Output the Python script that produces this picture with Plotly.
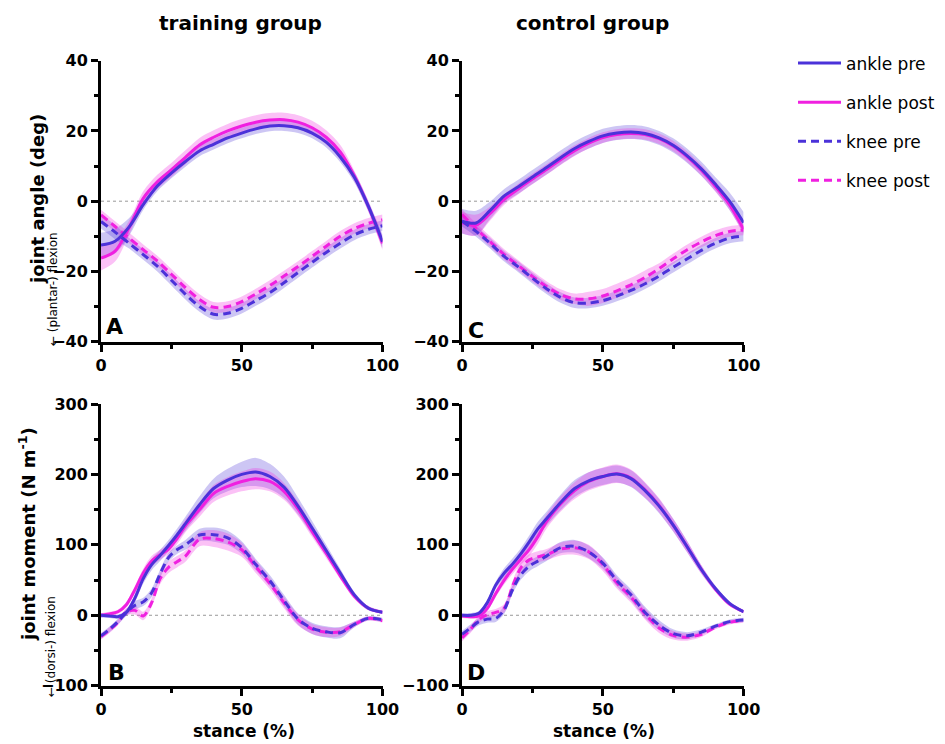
import plotly.graph_objects as go

# ---------------- data ----------------
X_ANGLE = [0, 5, 10, 15, 20, 25, 30, 35, 40, 45, 50, 55, 60, 65, 70, 75, 80, 85, 90, 95, 100]
X_MOMENT = [0, 3, 6, 9, 12, 15, 18, 21, 24, 27, 30, 35, 40, 45, 50, 55, 60, 65, 70, 75, 80, 85, 90, 95, 100]

# Panel A - training group, joint angle (deg)
A_ANKLE_PRE = [-12.5, -11.4, -7.3, -1.0, 4.3, 8.0, 11.3, 14.3, 16.2, 18.0, 19.4, 20.6, 21.4, 21.5, 20.9, 19.4, 16.8, 12.6, 6.8, -1.5, -11.5]
A_ANKLE_POST = [-16.2, -14.2, -7.5, 0.8, 5.5, 8.9, 12.5, 16.0, 18.2, 20.0, 21.4, 22.5, 23.1, 23.2, 22.5, 20.9, 18.2, 14.0, 7.2, -1.5, -12.0]
A_KNEE_PRE = [-5.8, -8.8, -12.0, -15.2, -18.5, -22.5, -26.5, -30.0, -32.2, -31.9, -30.5, -28.3, -26.0, -23.2, -20.3, -17.4, -14.6, -12.0, -9.6, -8.0, -7.0]
A_KNEE_POST = [-3.9, -7.2, -10.5, -13.8, -17.0, -20.8, -24.6, -28.0, -30.2, -30.0, -28.6, -26.4, -24.0, -21.3, -18.6, -15.7, -12.8, -10.0, -7.8, -6.3, -5.3]
A_ANKLE_PRE_SD = [3.5, 3.5, 2.5, 1.5, 1.5, 1.5, 1.5, 1.5, 1.5, 1.5, 1.5, 1.5, 1.5, 1.5, 1.5, 1.5, 1.5, 1.5, 1.5, 1.5, 2.0]
A_ANKLE_POST_SD = [3.5, 3.0, 2.0, 2.0, 2.0, 2.0, 2.0, 2.0, 2.0, 2.0, 2.0, 2.0, 2.0, 2.0, 2.0, 2.0, 2.0, 2.0, 1.5, 1.5, 2.0]
A_KNEE_PRE_SD = [2.0, 2.0, 1.5, 1.5, 1.5, 1.5, 1.5, 1.5, 1.5, 1.5, 1.5, 1.5, 1.5, 1.5, 1.5, 1.5, 1.5, 1.5, 1.5, 1.5, 1.5]
A_KNEE_POST_SD = [1.5, 1.5, 1.5, 1.5, 1.5, 1.5, 1.5, 1.5, 1.5, 1.5, 1.5, 1.5, 1.5, 1.5, 1.5, 1.5, 1.5, 1.5, 1.5, 1.5, 1.5]

# Panel C - control group, joint angle (deg)
C_ANKLE_PRE = [-5.7, -6.2, -2.6, 1.5, 4.1, 6.9, 9.6, 12.4, 15.0, 17.0, 18.6, 19.4, 19.7, 19.3, 18.0, 15.9, 12.9, 9.2, 4.8, 0.0, -6.1]
C_ANKLE_POST = [-6.1, -6.8, -3.5, 0.5, 3.5, 6.3, 9.0, 11.8, 14.4, 16.5, 18.1, 19.0, 19.3, 19.0, 17.8, 15.7, 12.6, 8.8, 4.2, -1.0, -8.0]
C_KNEE_PRE = [-5.7, -8.6, -12.0, -15.7, -18.7, -21.9, -24.9, -27.4, -28.9, -29.0, -28.3, -27.0, -25.4, -23.5, -21.3, -18.8, -16.4, -14.0, -12.0, -10.5, -9.9]
C_KNEE_POST = [-3.8, -7.8, -11.5, -15.2, -18.3, -21.4, -24.3, -26.6, -27.8, -27.8, -27.0, -25.5, -23.8, -21.7, -19.2, -16.4, -13.8, -11.6, -9.8, -8.6, -8.2]
C_ANKLE_PRE_SD = [3.5, 3.5, 2.5, 2.0, 2.0, 2.0, 2.0, 2.0, 2.0, 2.0, 2.0, 2.0, 2.0, 2.0, 2.0, 2.0, 2.0, 2.0, 2.0, 2.5, 3.0]
C_ANKLE_POST_SD = [3.0, 3.0, 2.0, 1.5, 1.5, 1.5, 1.5, 1.5, 1.5, 1.5, 1.5, 1.5, 1.5, 1.5, 1.5, 1.5, 1.5, 1.5, 1.5, 1.5, 1.5]
C_KNEE_PRE_SD = [1.5, 1.5, 1.5, 1.5, 1.5, 1.5, 1.5, 1.5, 1.5, 1.5, 1.5, 1.5, 1.5, 1.5, 1.5, 1.5, 1.5, 1.5, 1.5, 1.5, 1.5]
C_KNEE_POST_SD = [1.5, 1.5, 1.5, 1.5, 1.5, 1.5, 1.5, 1.5, 1.5, 2.0, 2.0, 2.0, 2.0, 2.0, 1.5, 1.5, 1.5, 1.5, 1.5, 1.5, 1.5]

# Panel B - training group, joint moment (N m-1)
B_ANKLE_PRE = [0, -1, -2, 4, 24, 52, 72, 85, 99, 114, 130, 157, 180, 192, 200, 203.5, 197, 182, 155, 124, 92, 60, 29, 10, 4.3]
B_ANKLE_POST = [0, 2, 5, 15, 36, 60, 77, 86, 94, 109, 127, 150, 173, 183, 190, 194, 190, 176, 151, 119, 88, 56, 27, 10, 4.3]
B_KNEE_PRE = [-29.3, -20, -9, 4, 14, 19, 32, 59, 82, 93, 100, 114, 114.5, 110, 96, 72, 49, 21, -5.5, -18.5, -23.5, -24.8, -13, -4.3, -6.6]
B_KNEE_POST = [-30.3, -21, -10, 5, 7, -1, 18, 52, 68, 76, 84, 108, 109, 104, 93, 69, 45, 18, -6.5, -19.5, -24, -23.5, -13, -4.5, -7.6]
B_ANKLE_PRE_SD = [3, 3, 3, 4, 6, 7, 8, 8, 8, 9, 10, 12, 14, 16, 18, 20, 18, 15, 12, 10, 8, 6, 4, 3, 2]
B_ANKLE_POST_SD = [3, 3, 3, 4, 5, 6, 7, 7, 7, 8, 9, 10, 12, 13, 14, 15, 14, 12, 10, 8, 7, 5, 4, 3, 2]
B_KNEE_PRE_SD = [4, 4, 4, 5, 6, 6, 6, 6, 6, 6, 7, 9, 10, 10, 9, 8, 8, 8, 8, 8, 8, 8, 4, 3, 3]
B_KNEE_POST_SD = [4, 4, 4, 5, 6, 6, 6, 8, 8, 8, 8, 10, 12, 12, 10, 9, 8, 8, 8, 7, 7, 6, 4, 3, 3]

# Panel D - control group, joint moment (N m-1)
D_ANKLE_PRE = [0, 0, 3, 18, 43, 60, 73, 88, 105, 123, 137, 160, 180, 191, 197, 200.5, 194, 177, 155, 128, 97, 65, 38, 17, 5]
D_ANKLE_POST = [-1, -2, -1, 10, 31, 50, 66, 80, 94, 112, 133, 158, 177, 190, 197, 201, 195, 178, 156, 128, 97, 65, 37, 16, 5]
D_KNEE_PRE = [-27, -18, -9, -5.5, -4.5, 8, 37, 58, 70, 77, 84, 96, 98, 90, 74, 49, 29, 4, -14, -26, -29, -24, -15.5, -9, -6.6]
D_KNEE_POST = [-32, -20, -6, 1, 4, 10, 42, 68, 79, 83, 86, 94, 96, 90, 72, 46, 26, 2, -18, -28.5, -31, -27, -17, -10, -7.5]
D_ANKLE_PRE_SD = [3, 3, 3, 4, 5, 7, 8, 8, 9, 10, 10, 11, 12, 12, 12, 12, 12, 11, 10, 9, 8, 6, 4, 3, 2]
D_ANKLE_POST_SD = [3, 3, 3, 4, 5, 6, 7, 8, 9, 10, 10, 11, 12, 13, 13, 13, 12, 11, 10, 9, 8, 6, 4, 3, 2]
D_KNEE_PRE_SD = [5, 5, 5, 5, 5, 6, 6, 7, 7, 7, 7, 8, 9, 9, 8, 8, 8, 8, 7, 6, 5, 4, 3, 3, 3]
D_KNEE_POST_SD = [5, 5, 5, 5, 5, 6, 7, 8, 8, 8, 8, 9, 10, 10, 9, 8, 8, 8, 7, 6, 5, 4, 3, 3, 3]

SERIES_NAMES = ["ankle pre", "ankle post", "knee pre", "knee post"]
GROUP_TITLES = ["training group", "control group"]
PANEL_LETTERS = ["A", "C", "B", "D"]

# ---------------- style ----------------
PRE_COLOR = "#4B32D9"
POST_COLOR = "#F020E0"
PRE_FILL = "rgba(75,50,217,0.28)"
POST_FILL = "rgba(240,32,224,0.28)"
DASH = "8px,5px"
FONT = "DejaVu Sans"

# the page body adds an 8 px offset; figure is sized to fill the remaining window
OFF = 8
W, H = 945 - OFF, 744 - OFF


def px_x(px):
    return (px - OFF) / W


def px_y(py):
    return 1 - (py - OFF) / H


STYLE = {
    "ankle pre": dict(color=PRE_COLOR, fill=PRE_FILL, dash="solid", rank=1),
    "ankle post": dict(color=POST_COLOR, fill=POST_FILL, dash="solid", rank=2),
    "knee pre": dict(color=PRE_COLOR, fill=PRE_FILL, dash=DASH, rank=3),
    "knee post": dict(color=POST_COLOR, fill=POST_FILL, dash=DASH, rank=4),
}

panels = [
    dict(xa="x", ya="y", x=X_ANGLE, legend=True,
         data={"ankle pre": (A_ANKLE_PRE, A_ANKLE_PRE_SD), "ankle post": (A_ANKLE_POST, A_ANKLE_POST_SD),
               "knee pre": (A_KNEE_PRE, A_KNEE_PRE_SD), "knee post": (A_KNEE_POST, A_KNEE_POST_SD)}),
    dict(xa="x2", ya="y2", x=X_ANGLE, legend=False,
         data={"ankle pre": (C_ANKLE_PRE, C_ANKLE_PRE_SD), "ankle post": (C_ANKLE_POST, C_ANKLE_POST_SD),
               "knee pre": (C_KNEE_PRE, C_KNEE_PRE_SD), "knee post": (C_KNEE_POST, C_KNEE_POST_SD)}),
    dict(xa="x3", ya="y3", x=X_MOMENT, legend=False,
         data={"ankle pre": (B_ANKLE_PRE, B_ANKLE_PRE_SD), "ankle post": (B_ANKLE_POST, B_ANKLE_POST_SD),
               "knee pre": (B_KNEE_PRE, B_KNEE_PRE_SD), "knee post": (B_KNEE_POST, B_KNEE_POST_SD)}),
    dict(xa="x4", ya="y4", x=X_MOMENT, legend=False,
         data={"ankle pre": (D_ANKLE_PRE, D_ANKLE_PRE_SD), "ankle post": (D_ANKLE_POST, D_ANKLE_POST_SD),
               "knee pre": (D_KNEE_PRE, D_KNEE_PRE_SD), "knee post": (D_KNEE_POST, D_KNEE_POST_SD)}),
]

fig = go.Figure()
for p in panels:
    xs = p["x"]
    # SD bands
    for name in SERIES_NAMES:
        vals, sd = p["data"][name]
        st = STYLE[name]
        upper = [v + s for v, s in zip(vals, sd)]
        lower = [v - s for v, s in zip(vals, sd)]
        fig.add_trace(go.Scatter(x=xs, y=upper, xaxis=p["xa"], yaxis=p["ya"], mode="lines",
                                 line=dict(width=0, shape="spline", smoothing=0.9),
                                 showlegend=False, hoverinfo="skip"))
        fig.add_trace(go.Scatter(x=xs, y=lower, xaxis=p["xa"], yaxis=p["ya"], mode="lines",
                                 line=dict(width=0, shape="spline", smoothing=0.9),
                                 fill="tonexty", fillcolor=st["fill"],
                                 showlegend=False, hoverinfo="skip"))
    # mean lines: post first, pre on top
    for name in ["ankle post", "knee post", "ankle pre", "knee pre"]:
        vals, sd = p["data"][name]
        st = STYLE[name]
        fig.add_trace(go.Scatter(x=xs, y=vals, xaxis=p["xa"], yaxis=p["ya"], mode="lines",
                                 name=name, legendgroup=name, legendrank=st["rank"],
                                 showlegend=p["legend"],
                                 line=dict(color=st["color"], width=3, dash=st["dash"],
                                           shape="spline", smoothing=0.9)))

tickfont = dict(family=FONT, size=16, color="black", weight="bold")


def xaxis(domain, anchor):
    return dict(domain=domain, anchor=anchor, range=[0, 100], dtick=50, tick0=0,
                showline=True, linecolor="black", linewidth=3, ticks="outside", ticklen=7,
                tickwidth=2.5, tickcolor="black", showgrid=False, zeroline=False,
                tickfont=tickfont, automargin=False,
                minor=dict(ticks="outside", ticklen=4, tickwidth=2.5, tickcolor="black", dtick=25))


def yaxis(domain, anchor, rng, dtick):
    return dict(domain=domain, anchor=anchor, range=rng, dtick=dtick, tick0=0,
                showline=True, linecolor="black", linewidth=3, ticks="outside", ticklen=7,
                tickwidth=2.5, tickcolor="black", showgrid=False, zeroline=False,
                tickfont=tickfont, automargin=False,
                minor=dict(ticks="outside", ticklen=4, tickwidth=2.5, tickcolor="black", dtick=dtick / 2))


LEFT = [px_x(101), px_x(382.5)]
RIGHT = [px_x(462), px_x(743.6)]
TOP = [px_y(341.7), px_y(60.7)]
BOTTOM = [px_y(685.7), px_y(404)]

fig.update_layout(
    width=W, height=H, autosize=False,
    margin=dict(l=0, r=0, t=0, b=0, pad=0, autoexpand=False),
    paper_bgcolor="white", plot_bgcolor="white",
    xaxis=xaxis(LEFT, "y"), yaxis=yaxis(TOP, "x", [-40, 40], 20),
    xaxis2=xaxis(RIGHT, "y2"), yaxis2=yaxis(TOP, "x2", [-40, 40], 20),
    xaxis3=xaxis(LEFT, "y3"), yaxis3=yaxis(BOTTOM, "x3", [-100, 300], 100),
    xaxis4=xaxis(RIGHT, "y4"), yaxis4=yaxis(BOTTOM, "x4", [-100, 300], 100),
    legend=dict(x=px_x(793), y=px_y(45.5), xanchor="left", yanchor="top",
                font=dict(family=FONT, size=17, color="black"),
                tracegroupgap=14, itemwidth=43, bgcolor="rgba(0,0,0,0)", traceorder="grouped"),
    showlegend=True,
)

# dotted zero lines
for xa, ya in [("x", "y"), ("x2", "y2"), ("x3", "y3"), ("x4", "y4")]:
    fig.add_shape(type="line", xref=f"{xa} domain", yref=ya, x0=0, x1=1, y0=0, y1=0,
                  line=dict(color="#999999", width=1, dash="dot"), layer="below")


def note(text, px, py, size, angle=0):
    return dict(text=text, x=px_x(px), y=px_y(py), xref="paper", yref="paper",
                xanchor="center", yanchor="middle", textangle=angle, showarrow=False,
                font=dict(family=FONT, size=size, color="black"))


ann = []
# column titles
ann.append(note(f"<b>{GROUP_TITLES[0]}</b>", 240, 23, 20))
ann.append(note(f"<b>{GROUP_TITLES[1]}</b>", 592, 23, 20))
# y titles
ann.append(note("<b>joint angle (deg)</b>", 37, 199, 18, -90))
ann.append(note("← (plantar-) flexion", 53, 289, 12, -90))
ann.append(note("<b>joint moment (N m<sup>-1</sup>)</b>", 27, 534, 18, -90))
ann.append(note("← (dorsi-) flexion", 51, 647, 12, -90))
# x titles
for cx in [244, 604]:
    ann.append(note("<b>stance (%)</b>", cx, 731, 17))
# panel letters
for letter, (px, py) in zip(PANEL_LETTERS, [(114, 326), (476, 330), (116, 672), (476, 672)]):
    ann.append(note(f"<b>{letter}</b>", px, py, 22))
fig.update_layout(annotations=ann)

fig.write_html("out.html")
